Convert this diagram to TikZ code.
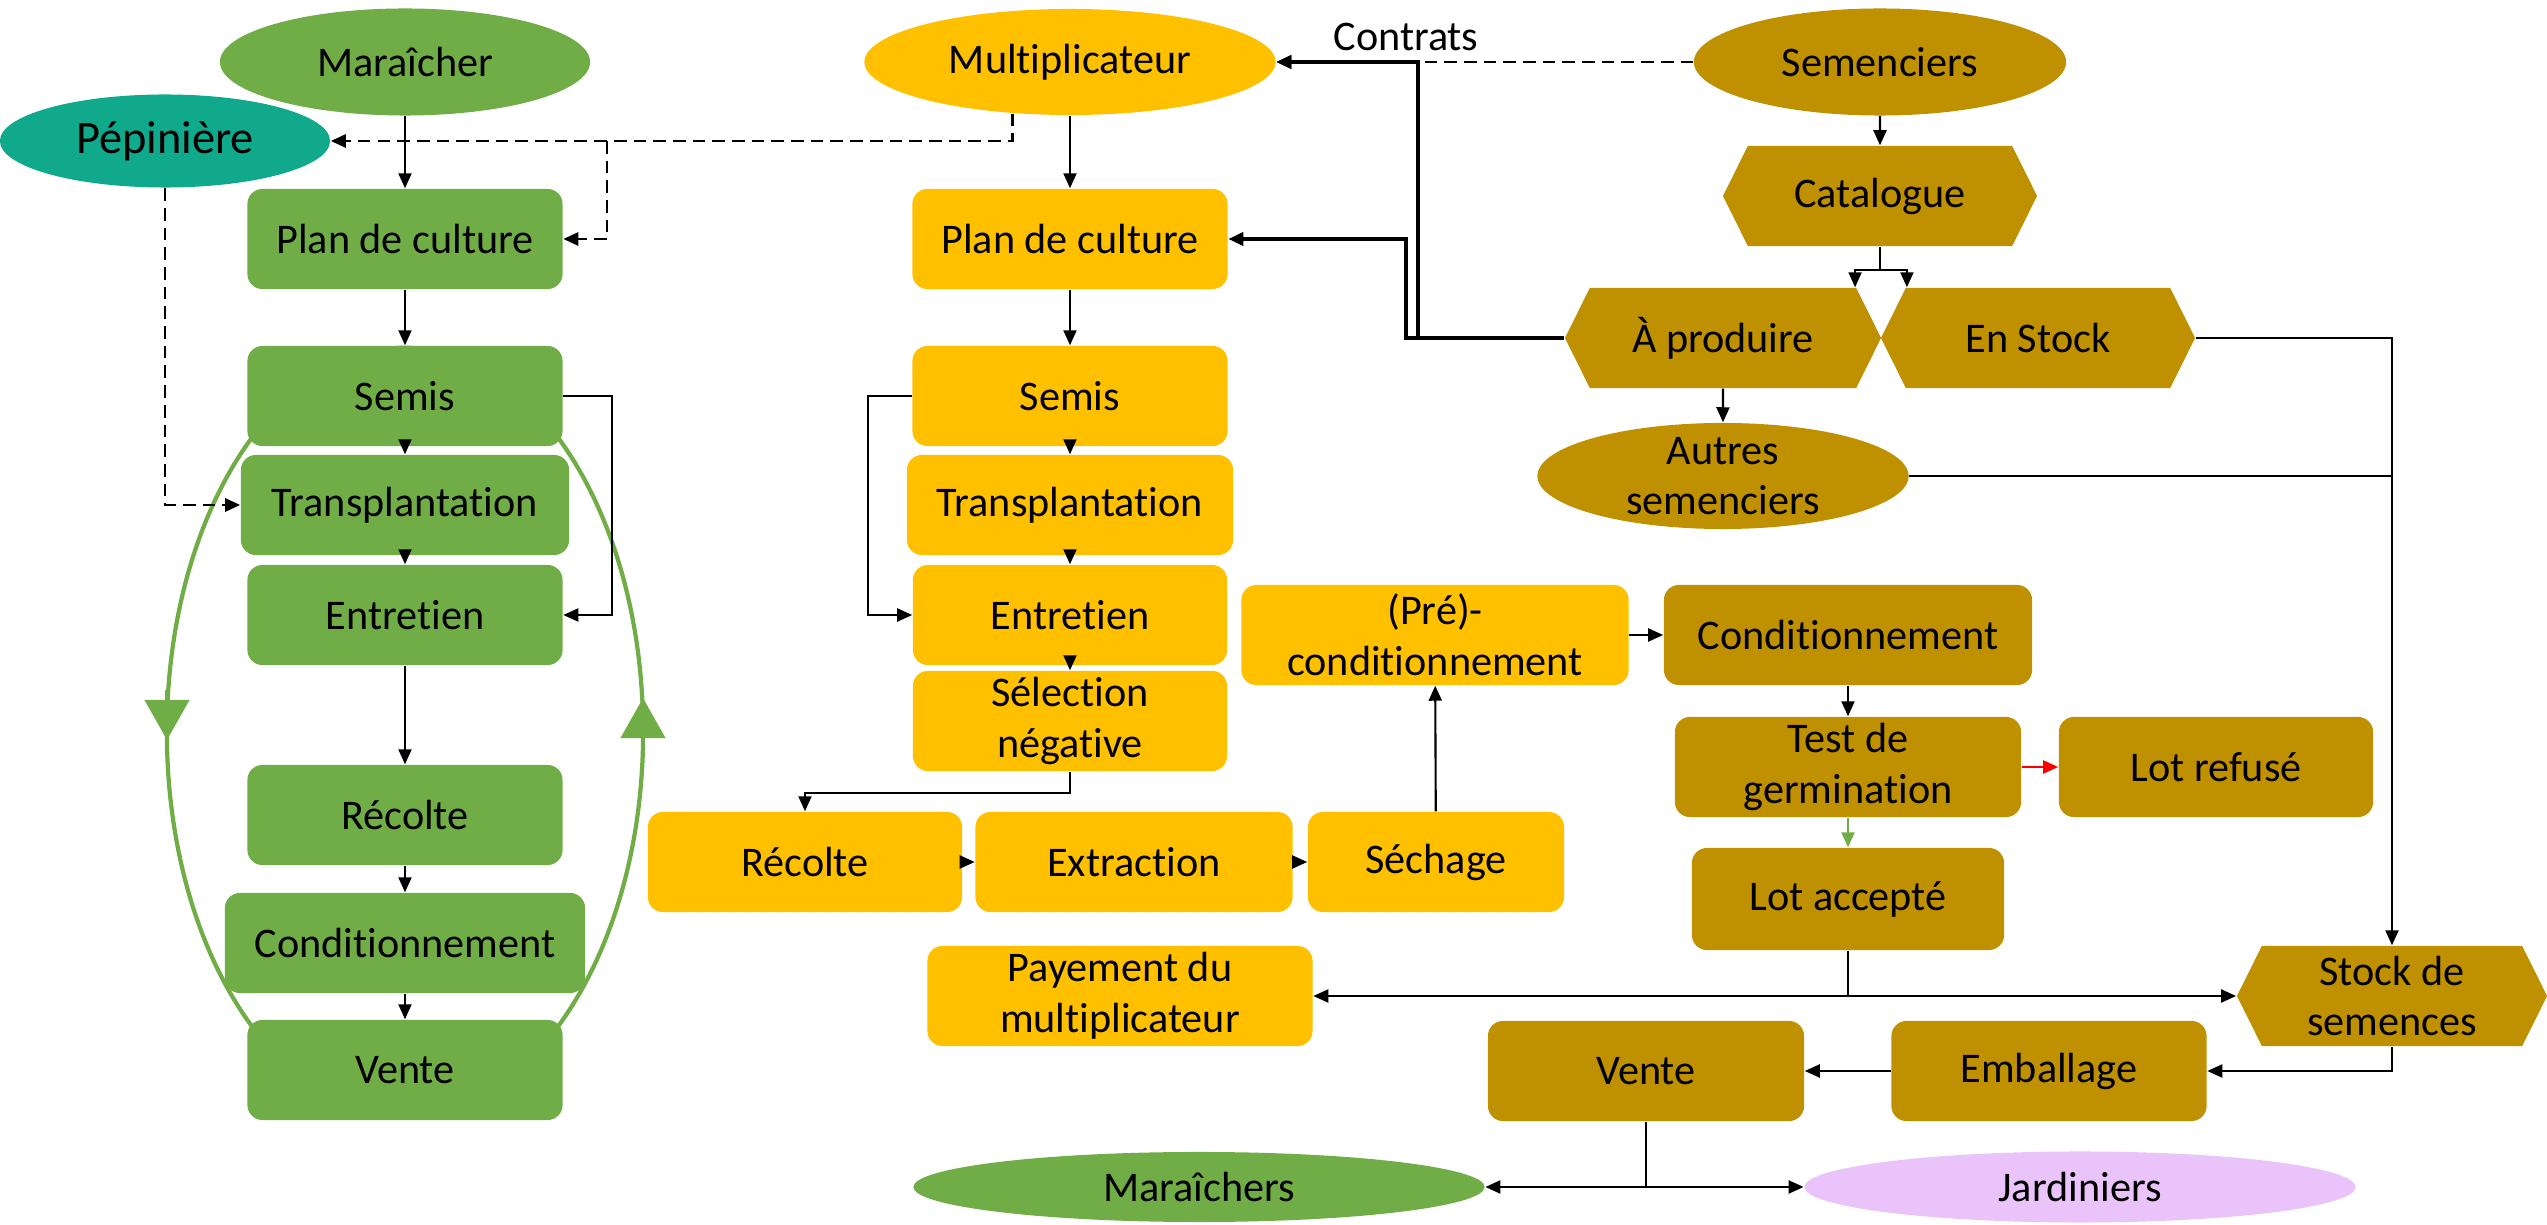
\documentclass[tikz,border=0pt]{standalone}
\usepackage{fontspec}
\setmainfont{Carlito}[Ligatures={NoCommon,NoRequired,NoContextual}]
\usetikzlibrary{shapes.geometric,shapes.symbols,arrows.meta}
\definecolor{vert}{HTML}{70AD47}
\definecolor{jaune}{HTML}{FFC000}
\definecolor{ocre}{HTML}{BF9000}
\definecolor{turquoise}{HTML}{10A98B}
\definecolor{lilas}{HTML}{E9C3FA}

\begin{document}
\begin{tikzpicture}[x=0.01cm,y=-0.01cm,
every node/.style={font=\fontsize{12}{14.4}\selectfont, align=center, inner sep=0pt},
box/.style={rectangle, rounded corners=0.15cm, minimum height=1cm},
hexa/.style={signal, signal to=west and east, signal pointer angle=127, minimum height=1cm, fill=ocre},
oval/.style={ellipse},
arr/.style={line width=0.6pt, -{Triangle[length=0.15cm,width=0.13cm]}},
dasharr/.style={arr, line width=0.8pt, dash pattern=on 3.6pt off 2pt},
cycleline/.style={vert, line width=1.2pt}]
\useasboundingbox (0,0) rectangle (2547,1225);
\draw[cycleline] (405,732) ellipse [x radius=2.38cm, y radius=3.84cm];
\draw[cycleline, -{Triangle[length=0.4cm,width=0.44cm]}] (167,690) -- (167,740);
\draw[cycleline, -{Triangle[length=0.4cm,width=0.44cm]}] (643,745) -- (643,698);

\node[oval, fill=vert, minimum width=3.7cm, minimum height=1.07cm] (mar) at (405,62) {Maraîcher};
\node[oval, fill=turquoise, minimum width=3.3cm, minimum height=0.93cm, font=\fontsize{13.2}{16}\selectfont] (pep) at (165,141) {Pépinière};
\node[box, fill=vert, minimum width=3.15cm] (planG) at (405,239) {Plan de culture};
\node[box, fill=vert, minimum width=3.15cm] (semisG) at (405,396) {Semis};
\node[box, fill=vert, minimum width=3.28cm] (transG) at (405,505) {Transplantation};
\node[box, fill=vert, minimum width=3.15cm] (entG) at (405,615) {Entretien};
\node[box, fill=vert, minimum width=3.15cm] (recG) at (405,815) {Récolte};
\node[box, fill=vert, minimum width=3.6cm] (condG) at (405,943) {Conditionnement};
\node[box, fill=vert, minimum width=3.15cm] (venteG) at (405,1070) {Vente};

\node[oval, fill=jaune, minimum width=4.11cm, minimum height=1.06cm] (mult) at (1070,62) {Multiplicateur};
\node[box, fill=jaune, minimum width=3.15cm] (planY) at (1070,239) {Plan de culture};
\node[box, fill=jaune, minimum width=3.15cm] (semisY) at (1070,396) {Semis};
\node[box, fill=jaune, minimum width=3.26cm] (transY) at (1070,505) {Transplantation};
\node[box, fill=jaune, minimum width=3.14cm] (entY) at (1070,615) {Entretien};
\node[box, fill=jaune, minimum width=3.14cm] (selY) at (1070,721) {Sélection\\négative};
\node[box, fill=jaune, minimum width=3.14cm] (recY) at (805,862) {Récolte};
\node[box, fill=jaune, minimum width=3.17cm] (extY) at (1134,862) {Extraction};
\node[box, fill=jaune, minimum width=2.56cm] (sechY) at (1436,862) {Séchage};
\node[box, fill=jaune, minimum width=3.87cm] (preY) at (1435,635) {(Pré)-\\conditionnement};
\node[box, fill=jaune, minimum width=3.85cm] (payY) at (1120,996) {Payement du\\multiplicateur};

\node[oval, fill=ocre, minimum width=3.72cm, minimum height=1.07cm] (sem) at (1880,62) {Semenciers};
\node[hexa, minimum width=3.14cm] (cat) at (1880,196) {Catalogue};
\node[hexa, minimum width=3.16cm] (aprod) at (1723,338) {À produire};
\node[hexa, minimum width=3.14cm] (enst) at (2038,338) {En Stock};
\node[oval, fill=ocre, minimum width=3.71cm, minimum height=1.06cm, inner sep=-0.14cm] (autres) at (1723,476) {Autres\\semenciers};
\node[box, fill=ocre, minimum width=3.68cm] (condB) at (1848,635) {Conditionnement};
\node[box, fill=ocre, minimum width=3.46cm] (testB) at (1848,767) {Test de\\germination};
\node[box, fill=ocre, minimum width=3.14cm] (refuse) at (2216,767) {Lot refusé};
\node[box, fill=ocre, minimum width=3.12cm, minimum height=1.02cm] (accepte) at (1848,899) {Lot accepté};
\node[hexa, minimum width=3.1cm] (stock) at (2392,996) {Stock de\\semences};
\node[box, fill=ocre, minimum width=3.15cm] (emb) at (2049,1071) {Emballage};
\node[box, fill=ocre, minimum width=3.16cm] (venteB) at (1646,1071) {Vente};
\node[oval, fill=vert, minimum width=5.71cm, minimum height=0.7cm] (mars) at (1199,1187) {Maraîchers};
\node[oval, fill=lilas, minimum width=5.51cm, minimum height=0.71cm] (jard) at (2080,1187) {Jardiniers};
\node (contrats) at (1406,37) {Contrats};
\coordinate (dashfork) at (607,141);

\draw[arr] (mar) -- (planG);
\draw[arr] (planG) -- (semisG);
\draw[arr] (semisG) -- (transG);
\draw[arr] (transG) -- (entG);
\draw[arr] (semisG.east) -- ++(49,0) |- (entG.east);
\draw[arr] (entG) -- (recG);
\draw[arr] (recG) -- (condG);
\draw[arr] (condG) -- (venteG);
\draw[dasharr] (pep.south) |- (transG.west);
\draw[dasharr] (mult.222) |- (pep.east);
\draw[dasharr] (dashfork) |- (planG.east);

\draw[arr] (mult) -- (planY);
\draw[arr] (planY) -- (semisY);
\draw[arr] (semisY) -- (transY);
\draw[arr] (transY) -- (entY);
\draw[arr] (semisY.west) -- ++(-44,0) |- (entY.west);
\draw[arr] (entY) -- (selY);
\draw[arr] (selY.south) -- ++(0,21) -| (recY.north);
\draw[arr] (recY) -- (extY);
\draw[arr] (extY) -- (sechY);
\draw[arr] (sechY) -- (preY);
\draw[arr] (preY) -- (condB);
\draw[arr] (condB) -- (testB);
\draw[arr, red] (testB) -- (refuse);
\draw[arr, vert] (testB) -- (accepte);
\draw[arr] (accepte.south) |- (payY.east);
\draw[arr] (accepte.south) |- (stock.west);

\draw[dasharr] (sem.west) -- (mult.east);
\draw[arr] (sem) -- (cat);
\draw[arr] (cat.south) -- ++(0,23) -| ([xshift=1.32cm]aprod.north);
\draw[arr] (cat.south) -- ++(0,23) -| ([xshift=-1.31cm]enst.north);
\draw[arr, line width=1pt] (aprod.west) -- ++(-146,0) |- (mult.east);
\draw[arr, line width=1pt] (aprod.west) -- ++(-158,0) |- (planY.east);
\draw[arr] (aprod) -- (autres);
\draw[arr] (enst.east) -| (stock.north);
\draw[line width=0.6pt] (autres.east) -- (autres.east -| stock.north);
\draw[arr] (stock.south) |- (emb.east);
\draw[arr] (emb) -- (venteB);
\draw[arr] (venteB.south) |- (mars.east);
\draw[arr] (venteB.south) |- (jard.west);
\end{tikzpicture}
\end{document}
